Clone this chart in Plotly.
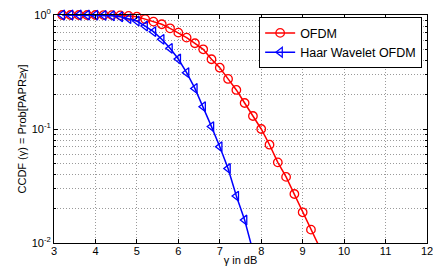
import plotly.graph_objects as go

gamma_ofdm = [3.2, 3.4, 3.6, 3.8, 4.0, 4.2, 4.4, 4.6, 4.8, 5.0, 5.2, 5.4, 5.6, 5.8, 6.0, 6.2,
              6.4, 6.6, 6.8, 7.0, 7.2, 7.4, 7.6, 7.8, 8.0, 8.2, 8.4, 8.6, 8.8, 9.0, 9.2, 9.4]
ccdf_ofdm = [1.0, 1.0, 1.0, 1.0, 0.9995, 0.999, 0.997, 0.992, 0.982, 0.966, 0.92, 0.875,
             0.83, 0.764, 0.70, 0.633, 0.565, 0.50, 0.409, 0.345, 0.275, 0.22, 0.169, 0.130,
             0.100, 0.0728, 0.051, 0.038, 0.0269, 0.0186, 0.0131, 0.0093]

gamma_haar = [3.2, 3.4, 3.6, 3.8, 4.0, 4.2, 4.4, 4.6, 4.8, 5.0, 5.2, 5.4, 5.6, 5.8, 6.0, 6.2,
              6.4, 6.6, 6.8, 7.0, 7.2, 7.4, 7.6, 7.8]
ccdf_haar = [1.0, 1.0, 0.9995, 0.999, 0.997, 0.993, 0.985, 0.965, 0.93, 0.885, 0.80, 0.714,
             0.612, 0.51, 0.411, 0.312, 0.227, 0.157, 0.105, 0.070, 0.045, 0.0258, 0.0159, 0.0085]

x_ticks = [3, 4, 5, 6, 7, 8, 9, 10, 11, 12]
y_tickvals = [0.01, 0.1, 1]
y_ticktext = ["10<sup>-2</sup>", "10<sup>-1</sup>", "10<sup>0</sup>"]

Y_MIN = 0.01


def vis(vals):
    return [1 if v >= Y_MIN else 0 for v in vals]


fig = go.Figure()
fig.add_trace(go.Scatter(
    x=gamma_ofdm, y=ccdf_ofdm, mode="lines+markers", name="OFDM",
    line=dict(color="#ff0000", width=1.5),
    marker=dict(symbol="circle-open", size=8.5, color="#ff0000", opacity=vis(ccdf_ofdm),
                line=dict(width=1.3)),
    cliponaxis=False,
))
fig.add_trace(go.Scatter(
    x=gamma_haar, y=ccdf_haar, mode="lines+markers", name="Haar Wavelet OFDM",
    line=dict(color="#0000ff", width=1.5),
    marker=dict(symbol="triangle-left-open", size=8.5, color="#0000ff", opacity=vis(ccdf_haar),
                line=dict(width=1.3)),
    cliponaxis=False,
))

GRID = "#9a9a9a"
DASH = "1px,2px"

axis_common = dict(
    showline=True, linecolor="black", linewidth=1, mirror="ticks",
    ticks="inside", ticklen=4, tickcolor="black",
    showgrid=True, gridcolor=GRID, griddash=DASH, gridwidth=1,
    zeroline=False, tickfont=dict(size=11, color="black"),
    automargin=False, ticklabeloverflow="allow",
)

fig.update_layout(
    width=433, height=271,
    margin=dict(l=54, r=6, t=15, b=28),
    paper_bgcolor="white", plot_bgcolor="white",
    font=dict(family="Liberation Sans, Arial, sans-serif", size=11, color="black"),
    xaxis=dict(range=[3, 12], tickvals=x_ticks, ticklabelstandoff=-2,
               title=dict(text="γ in dB", font=dict(size=11), standoff=0),
               **axis_common),
    yaxis=dict(type="log", range=[-2, 0], tickvals=y_tickvals, ticktext=y_ticktext,
               title=dict(text="CCDF (γ) = Prob[PAPR≥γ]", font=dict(size=11), standoff=2),
               minor=dict(dtick="D1", showgrid=True, gridcolor=GRID, griddash=DASH,
                          ticks="inside", ticklen=2, tickcolor="black"),
               **axis_common),
    legend=dict(x=0.987, y=0.99, xanchor="right", yanchor="top",
                bgcolor="white", bordercolor="black", borderwidth=1,
                font=dict(size=12.5), itemwidth=30, tracegroupgap=0),
    showlegend=True,
)

fig.write_html("out.html", config={"displayModeBar": False},
               post_script="document.body.style.margin='0';document.body.style.overflow='hidden';")
